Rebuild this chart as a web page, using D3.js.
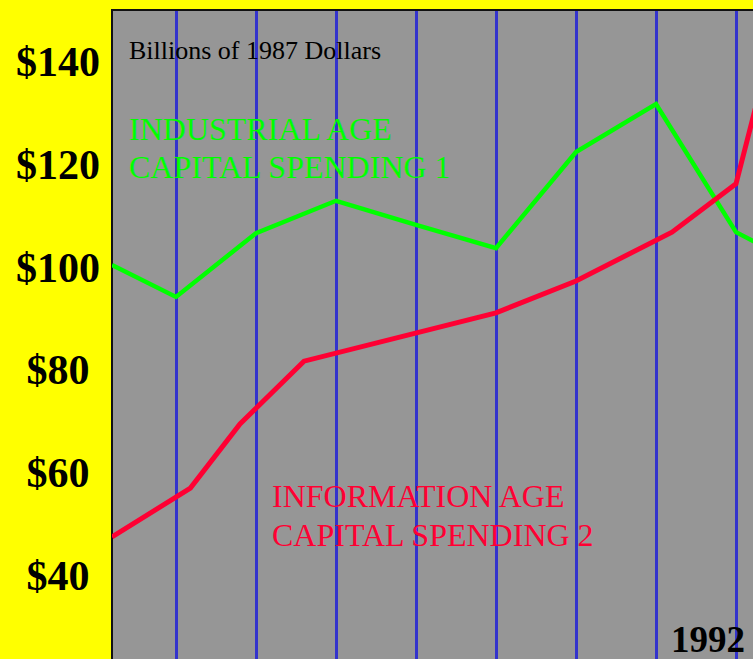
<!DOCTYPE html>
<html lang="en">
<meta charset="utf-8">
<style>
body { margin: 0; background: #ffff00; }
svg { display: block; }
.ylab text { font: bold 42px "Liberation Serif", "Times New Roman", serif; fill: #000; }
.note { font: 26px "Liberation Serif", "Times New Roman", serif; }
.series { font: 32px "Liberation Serif", "Times New Roman", serif; }
</style>
<body>
<script src="https://d3js.org/d3.v7.min.js"></script>
<script>
// chart size
var w = 753, h = 659;

// gridline years and y ticks
var gridYears = [1984, 1985, 1986, 1987, 1988, 1989, 1990, 1991, 1992];
var yTicks = [40, 60, 80, 100, 120, 140];

// industrial age capital spending (green)
var industrialYears = [1983.2, 1984, 1985, 1986, 1987, 1988, 1989, 1990, 1991, 1992];
var industrial = [100.5, 94.3, 106.7, 113.0, 108.3, 103.8, 122.5, 131.8, 106.9, 98.8];

// information age capital spending (red)
var informationYears = [1983.2, 1984.18, 1984.8, 1985.6, 1988, 1989, 1990.2, 1991, 1991.3];
var information = [47.6, 57.1, 69.6, 81.8, 91.2, 97.4, 106.9, 116.3, 134.5];

var plot = {left: 112, top: 10, right: 800, bottom: 700};

var x = d3.scaleLinear().domain([1984, 1991]).range([176, 736]);
var y = d3.scaleLinear().domain([40, 140]).range([576, 62]);

var svg = d3.select("body").append("svg")
  .attr("width", w)
  .attr("height", h);

svg.append("defs").append("clipPath").attr("id", "clip")
  .append("rect")
  .attr("x", plot.left).attr("y", plot.top)
  .attr("width", plot.right - plot.left).attr("height", plot.bottom - plot.top);

// plot background
svg.append("rect")
  .attr("x", plot.left).attr("y", plot.top)
  .attr("width", plot.right - plot.left).attr("height", plot.bottom - plot.top)
  .attr("fill", "#969696")
  .attr("stroke", "#111")
  .attr("stroke-width", 2);

var g = svg.append("g").attr("clip-path", "url(#clip)");

// vertical gridlines
g.selectAll(".grid")
  .data(gridYears)
  .enter().append("line")
  .attr("x1", function(d) { return x(d) + 0.5; })
  .attr("x2", function(d) { return x(d) + 0.5; })
  .attr("y1", plot.top + 1)
  .attr("y2", plot.bottom)
  .attr("stroke", "#3333cc")
  .attr("stroke-width", 3);

function series(years, vals) {
  return years.map(function(d, i) { return [d, vals[i]]; });
}

var line = d3.line()
  .x(function(d) { return x(d[0]); })
  .y(function(d) { return y(d[1]); });

g.append("path")
  .datum(series(industrialYears, industrial))
  .attr("d", line)
  .attr("fill", "none")
  .attr("stroke", "#00ff00")
  .attr("stroke-width", 4.5);

g.append("path")
  .datum(series(informationYears, information))
  .attr("d", line)
  .attr("fill", "none")
  .attr("stroke", "#ff0033")
  .attr("stroke-width", 5);

// y tick labels
var yAxis = d3.axisLeft(y)
  .tickValues(yTicks)
  .tickSize(0)
  .tickPadding(0)
  .tickFormat(function(d) { return "$" + d; });

svg.append("g")
  .attr("class", "ylab")
  .attr("transform", "translate(58,0)")
  .call(yAxis)
  .call(function(a) {
    a.select(".domain").remove();
    a.selectAll("text").attr("text-anchor", "middle").attr("font-family", null).attr("font-size", null);
  });

// texts
svg.append("text")
  .attr("class", "note")
  .attr("x", 129).attr("y", 59)
  .text("Billions of 1987 Dollars");

var t1 = svg.append("text").attr("class", "series").attr("fill", "#00ff00");
t1.append("tspan").attr("x", 129).attr("y", 140).text("INDUSTRIAL AGE");
t1.append("tspan").attr("x", 129).attr("y", 178).text("CAPITAL SPENDING 1");

var t2 = svg.append("text").attr("class", "series").attr("fill", "#ff0033");
t2.append("tspan").attr("x", 272).attr("y", 507).text("INFORMATION AGE");
t2.append("tspan").attr("x", 272).attr("y", 546).text("CAPITAL SPENDING 2");

svg.append("text")
  .attr("x", 745).attr("y", 652)
  .attr("text-anchor", "end")
  .style("font", "bold 37px 'Liberation Serif', 'Times New Roman', serif")
  .text("1992");
</script>
</body>
</html>
